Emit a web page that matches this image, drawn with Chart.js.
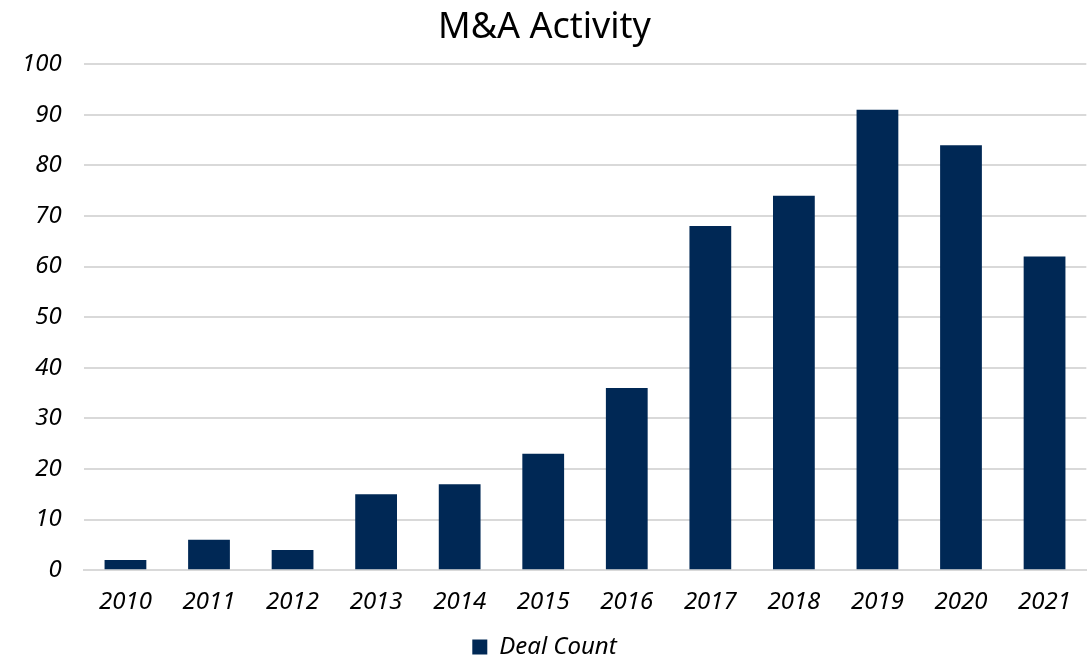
<!DOCTYPE html>
<html>
<head>
<meta charset="utf-8">
<script src="https://cdn.jsdelivr.net/npm/chart.js@4/dist/chart.umd.min.js"></script>
<style>
  html, body { margin: 0; padding: 0; background: #fff; }
  #wrap { width: 1089px; height: 669px; }
</style>
</head>
<body>
<div id="wrap"><canvas id="maChart"></canvas></div>
<script>
const years = ['2010', '2011', '2012', '2013', '2014', '2015', '2016', '2017', '2018', '2019', '2020', '2021'];
const dealCount = [2, 6, 4, 15, 17, 23, 36, 68, 74, 91, 84, 62];
const yTicks = [0, 10, 20, 30, 40, 50, 60, 70, 80, 90, 100];

const fontFamily = '"Noto Sans", sans-serif';

new Chart(document.getElementById('maChart'), {
  type: 'bar',
  data: {
    labels: years,
    datasets: [
      {
        label: 'Deal Count',
        data: dealCount,
        backgroundColor: '#002855',
        categoryPercentage: 1,
        barPercentage: 0.5
      }
    ]
  },
  options: {
    responsive: true,
    maintainAspectRatio: false,
    animation: false,
    layout: { padding: { left: 0, right: 0, top: 0, bottom: 0 } },
    scales: {
      x: {
        grid: { display: false, drawTicks: false },
        border: { color: '#d9d9d9', width: 2 },
        ticks: {
          color: '#000',
          padding: 18,
          font: { family: fontFamily, size: 24, style: 'italic' }
        }
      },
      y: {
        min: 0,
        max: 100,
        afterBuildTicks: (axis) => {
          axis.ticks = yTicks.map((v) => ({ value: v }));
        },
        grid: { color: '#d9d9d9', lineWidth: 2, drawTicks: false },
        border: { display: false },
        ticks: {
          color: '#000',
          padding: 22,
          font: { family: fontFamily, size: 24, style: 'italic' }
        }
      }
    },
    plugins: {
      title: {
        display: true,
        text: 'M&A Activity',
        color: '#000',
        padding: { top: 6, bottom: 15 },
        font: { family: fontFamily, size: 36, weight: 'normal' }
      },
      legend: {
        position: 'bottom',
        labels: {
          color: '#000',
          boxWidth: 15,
          boxHeight: 15,
          padding: 0,
          font: { family: fontFamily, size: 24, style: 'italic' }
        }
      },
      tooltip: { enabled: false }
    }
  }
});
</script>
</body>
</html>
